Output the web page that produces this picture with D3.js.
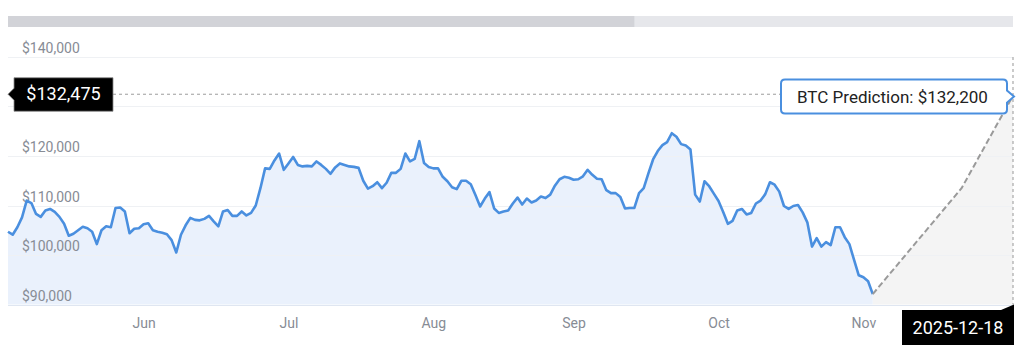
<!DOCTYPE html>
<html>
<head>
<meta charset="utf-8">
<script src="https://cdn.jsdelivr.net/npm/d3@7"></script>
<style>
  html, body { margin: 0; padding: 0; background: #ffffff; }
  svg { display: block; font-family: Roboto, "Open Sans", sans-serif; }
</style>
</head>
<body>
<svg id="chart" width="1024" height="358"></svg>
<script>
// ---- data ----
const startDate = "2025-05-17";            // first daily close
const prices = [
  104700,104100,105600,107600,111000,110500,108300,107700,109000,109300,
  108700,107700,106300,103900,104300,105000,105700,105400,104700,102200,
  105000,105800,105600,109500,109600,108800,104400,105300,105400,106200,
  106400,105000,104700,104500,104200,103000,100500,104100,106000,107500,
  107100,107000,107300,107900,106800,105800,108800,109100,107900,107900,
  108800,108000,108500,110000,113500,117500,117400,119100,120500,117200,
  118500,119800,118200,117900,118000,117900,118900,118200,117400,116400,
  117700,118500,118200,117900,117800,117600,115000,113400,113900,114700,
  113500,114600,116600,116600,117400,120500,118900,119400,123000,118600,
  117800,117500,117500,115800,114900,113700,113300,115000,115000,114300,
  112100,109800,111400,112700,109400,108500,108800,109000,110400,111600,
  110200,111400,110600,111000,111800,111500,112200,114000,115300,115800,
  115600,115200,115300,115900,117200,116200,115400,115300,113100,112500,
  112500,111700,109400,109500,109500,112500,113500,116500,119300,121000,
  122200,122800,124600,123900,122400,122100,121300,112200,110800,114900,
  113900,112400,110900,108700,106300,106900,109000,109300,108200,108500,
  110400,111000,112300,114700,114200,112800,109900,109300,109900,110100,
  108600,106600,101700,103400,101700,102600,102000,105600,105600,103600,
  102200,99000,95900,95500,94700,92100
];
const predictionDates = ["2025-11-18", "2025-12-07", "2025-12-18"];
const predictionValues = [92100, 113500, 132200];
const currentPrice = 132475;
const yTicks = [90000, 100000, 110000, 120000, 130000, 140000];
const xTickDates = ["2025-06-15", "2025-07-16", "2025-08-16", "2025-09-15", "2025-10-16", "2025-11-16"];
const xTickLabels = ["Jun", "Jul", "Aug", "Sep", "Oct", "Nov"];
const predictionLabel = "BTC Prediction: ";
const endDateLabel = "2025-12-18";
const navigatorEnd = "2025-09-28";

(function () {
// ---- setup ----
const parse = d3.utcParse("%Y-%m-%d");
const start = parse(startDate);
const series = prices.map((v, i) => ({ date: d3.utcDay.offset(start, i), value: v }));
const pred = predictionDates.map((d, i) => ({ date: parse(d), value: predictionValues[i] }));

const svg = d3.select("#chart");
const pLeft = 8, pRight = 1013, pTop = 57, pBottom = 304.5;

const x = d3.scaleUtc()
  .domain([start, parse("2025-12-18")])
  .range([pLeft, pRight]);
const y = d3.scaleLinear().domain([90000, 140000]).range([pBottom, pTop]);

const fmt = d3.format(",");
const money = v => "$" + fmt(v);
const cy = y(currentPrice);

// scrollbar / navigator
svg.append("rect").attr("x", pLeft).attr("y", 16).attr("width", pRight - pLeft).attr("height", 11).attr("fill", "#e6e7eb");
svg.append("rect").attr("x", pLeft).attr("y", 16).attr("width", x(parse(navigatorEnd)) - pLeft).attr("height", 11).attr("fill", "#d2d3d8");

// prediction area (grey)
svg.append("path")
  .datum(pred)
  .attr("fill", "#f4f4f4")
  .attr("d", d3.area().x(d => x(d.date)).y0(pBottom).y1(d => y(d.value)));

// history area (light blue)
svg.append("path")
  .datum(series)
  .attr("fill", "#eaf1fc")
  .attr("d", d3.area().x(d => x(d.date)).y0(pBottom).y1(d => y(d.value)));

// gridlines
svg.append("g")
  .selectAll("line")
  .data(yTicks)
  .join("line")
  .attr("x1", pLeft).attr("x2", pRight)
  .attr("y1", d => Math.round(y(d)) + 0.5).attr("y2", d => Math.round(y(d)) + 0.5)
  .attr("stroke", d => d === 90000 ? "#dfe6f1" : "#eff1f4")
  .attr("stroke-width", 1);

// y labels (the one hidden behind the current-price tag is skipped)
svg.append("g")
  .selectAll("text")
  .data(yTicks.filter(d => Math.abs(y(d) - 4 - cy) > 20))
  .join("text")
  .attr("x", 22)
  .attr("y", d => y(d) - 4)
  .attr("font-size", 14)
  .attr("fill", "#878c95")
  .text(d => money(d));

// x axis
const xAxis = d3.axisBottom(x)
  .tickValues(xTickDates.map(parse))
  .tickFormat((d, i) => xTickLabels[i])
  .tickSize(0)
  .tickPadding(0);
const gx = svg.append("g").attr("transform", `translate(0, ${pBottom + 10})`).call(xAxis);
gx.select(".domain").remove();
gx.selectAll("text")
  .attr("font-family", "Roboto, sans-serif")
  .attr("font-size", 14)
  .attr("fill", "#878c95")
  .attr("dy", "0.95em");

// vertical dashed line at prediction date
const ex = x(parse("2025-12-18"));
svg.append("line")
  .attr("x1", ex).attr("x2", ex)
  .attr("y1", pTop).attr("y2", pBottom)
  .attr("stroke", "#a8a8a8").attr("stroke-width", 1.2).attr("stroke-dasharray", "3,3");

// horizontal dashed line at current price
svg.append("line")
  .attr("x1", 113).attr("x2", pRight)
  .attr("y1", cy).attr("y2", cy)
  .attr("stroke", "#9c9c9c").attr("stroke-width", 1).attr("stroke-dasharray", "3,3");

// price line
svg.append("path")
  .datum(series)
  .attr("fill", "none")
  .attr("stroke", "#4a8fdf")
  .attr("stroke-width", 2.6)
  .attr("stroke-linejoin", "round")
  .attr("d", d3.line().x(d => x(d.date)).y(d => y(d.value)));

// prediction dashed line
svg.append("path")
  .datum(pred)
  .attr("fill", "none")
  .attr("stroke", "#9a9a9a")
  .attr("stroke-width", 2)
  .attr("stroke-dasharray", "6,3")
  .attr("d", d3.line().x(d => x(d.date)).y(d => y(d.value)));

// current price label (left)
svg.append("path")
  .attr("d", `M14,${cy - 16.5} L113,${cy - 16.5} L113,${cy + 17} L14,${cy + 17} L14,${cy + 6} L8,${cy} L14,${cy - 6} Z`)
  .attr("fill", "#000").attr("stroke", "#8a8a8a").attr("stroke-width", 0.8);
svg.append("text")
  .attr("x", 63.5).attr("y", cy + 5.5)
  .attr("text-anchor", "middle")
  .attr("font-size", 18)
  .attr("fill", "#fff")
  .text(money(currentPrice));

// prediction label (right)
const py = y(predictionValues[predictionValues.length - 1]) + 1;
const bx0 = 781, bx1 = 1007;
svg.append("path")
  .attr("d", `M${bx0 + 4},${py - 17} L${bx1 - 4},${py - 17} Q${bx1},${py - 17} ${bx1},${py - 13} L${bx1},${py - 6} L${bx1 + 7},${py} L${bx1},${py + 6} L${bx1},${py + 13} Q${bx1},${py + 17} ${bx1 - 4},${py + 17} L${bx0 + 4},${py + 17} Q${bx0},${py + 17} ${bx0},${py + 13} L${bx0},${py - 13} Q${bx0},${py - 17} ${bx0 + 4},${py - 17} Z`)
  .attr("fill", "#fff").attr("stroke", "#4a8fdf").attr("stroke-width", 2);
svg.append("text")
  .attr("x", 797).attr("y", py + 6.5)
  .attr("font-size", 17)
  .attr("fill", "#222")
  .text(predictionLabel + money(predictionValues[predictionValues.length - 1]));

// end date label (bottom right)
svg.append("path")
  .attr("d", `M902,310 L${ex - 12},310 L${ex + 1},${pBottom} L${ex + 1},345 L902,345 Z`)
  .attr("fill", "#000");
svg.append("text")
  .attr("x", 958).attr("y", 333.5)
  .attr("text-anchor", "middle")
  .attr("font-size", 18)
  .attr("fill", "#fff")
  .text(endDateLabel);
})();
</script>
</body>
</html>
